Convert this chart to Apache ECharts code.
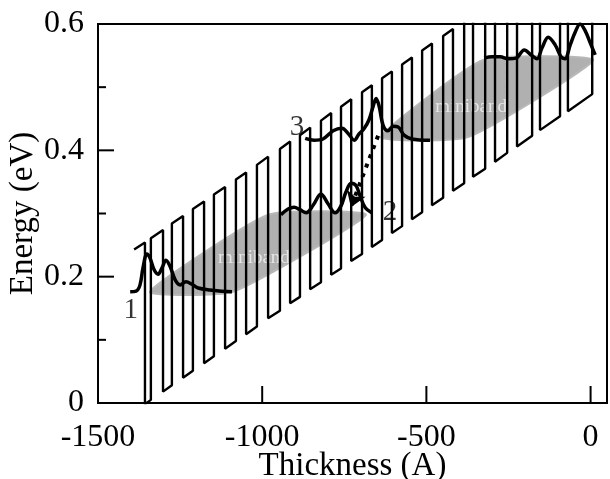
<!DOCTYPE html>
<html><head><meta charset="utf-8">
<script src="https://cdn.jsdelivr.net/npm/echarts@6/dist/echarts.min.js"></script>
<style>html,body{margin:0;padding:0;background:#fff}#c{width:610px;height:479px}</style>
</head><body><div id="c"></div>
<script>
// ---- axes ----
const xTickValues = [-1500, -1000, -500, 0];
const yTickValues = [0, 0.2, 0.4, 0.6];
const yMinorTickValues = [0.1, 0.3, 0.5];

// ---- superlattice band-edge profile (layer boundaries, Å) ----
const layerEdge = [-1390,-1357,-1339,-1302,-1275,-1241,-1211,-1177,-1147,-1113,-1080,-1049,-1016,-982,-946,-915,-885,-854,-821,-790,-760,-729,-696,-666,-635,-605,-574,-544,-513,-483,-449,-419,-385,-358,-321,-291,-254,-224,-178,-154,-93,-69,5,90];
// well-floor energy at each boundary (eV)
const bandFloor = [-0.013,-0.002,0.005,0.018,0.028,0.040,0.051,0.063,0.074,0.086,0.098,0.109,0.121,0.134,0.146,0.158,0.168,0.180,0.191,0.203,0.213,0.225,0.236,0.247,0.258,0.269,0.280,0.291,0.302,0.313,0.325,0.336,0.348,0.358,0.371,0.382,0.396,0.406,0.423,0.432,0.454,0.462,0.489,0.519];
const barrierHeight = 0.256;

// ---- minibands (corner points) ----
const miniband1X = [-1342, -1089, -684, -982];
const miniband1E = [0.176, 0.176, 0.298, 0.298];
const miniband2X = [-638, -373, 8, -327];
const miniband2E = [0.421, 0.421, 0.543, 0.543];
const minibandLabelX = [-1025, -364];
const minibandLabelE = [0.2295, 0.469];
const minibandText = 'miniband';

// ---- wavefunction curves ----
const curve1X = [-1402,-1384,-1372,-1363,-1351,-1342,-1329,-1317,-1305,-1293,-1281,-1265,-1250,-1232,-1214,-1195,-1159,-1092];
const curve1E = [0.176,0.177,0.187,0.214,0.236,0.230,0.211,0.204,0.214,0.226,0.217,0.195,0.187,0.192,0.188,0.182,0.179,0.176];
const curve2X = [-943,-921,-903,-885,-866,-845,-821,-799,-778,-760,-745,-729,-714,-702,-687,-665];
const curve2E = [0.298,0.307,0.310,0.306,0.301,0.313,0.331,0.315,0.301,0.312,0.334,0.348,0.344,0.328,0.310,0.301];
const curve3X = [-869,-842,-815,-784,-757,-737,-720,-705,-690,-675,-662,-653,-644,-632,-617,-601,-586,-568,-544,-489];
const curve3E = [0.419,0.416,0.418,0.431,0.435,0.426,0.416,0.426,0.434,0.448,0.470,0.482,0.470,0.440,0.431,0.438,0.437,0.424,0.418,0.416];
const curve4X = [-324,-300,-275,-251,-227,-202,-181,-163,-148,-129,-108,-90,-78,-62,-47,-32,-17,-1,14];
const curve4E = [0.546,0.548,0.548,0.545,0.546,0.559,0.551,0.545,0.562,0.579,0.567,0.548,0.545,0.567,0.587,0.600,0.590,0.570,0.551];

// ---- transition arrow ----
const arrowX = [-647, -730];
const arrowE = [0.423, 0.310];

// ---- state labels ----
const stateLabels = ['1', '2', '3'];
const stateLabelX = [-1400, -611, -894];
const stateLabelE = [0.147, 0.301, 0.437];

const FONT = "'Liberation Serif','Times New Roman',serif";
const X_MIN = xTickValues[0], X_MAX = 50, Y_MIN = 0, Y_MAX = 0.6;

// build profile polyline: even segments = barrier tops, odd = well floors
const profile = [];
for (let k = 0; k < layerEdge.length - 1; k++) {
  const off = (k % 2 === 0) ? barrierHeight : 0;
  profile.push([layerEdge[k], bandFloor[k] + off]);
  profile.push([layerEdge[k + 1], bandFloor[k + 1] + off]);
}
const zip = (a, b) => a.map((v, i) => [v, b[i]]);
const minibands = [
  {x: miniband1X, e: miniband1E, lx: minibandLabelX[0], le: minibandLabelE[0]},
  {x: miniband2X, e: miniband2E, lx: minibandLabelX[1], le: minibandLabelE[1]}
];

// tick marks (inside the frame): [axis, value, length]
const tickMarks = []
  .concat(xTickValues.slice(1).map(v => ['x', v, 17]))
  .concat(yTickValues.slice(1, 3).map(v => ['y', v, 16]))
  .concat(yMinorTickValues.map(v => ['y', v, 8]));

const curveSeries = (x, e) => ({
  type: 'line', data: zip(x, e), symbol: 'none', smooth: 0.35,
  lineStyle: {color: '#000', width: 3.5}, z: 5, silent: true
});

const axisBase = {
  type: 'value', nameLocation: 'middle', nameMoveOverlap: false,
  nameTextStyle: {fontFamily: FONT, fontSize: 33, color: '#000'},
  axisLine: {show: true, onZero: false, lineStyle: {color: '#000', width: 2}},
  axisTick: {show: false},
  splitLine: {show: false}
};

const chart = echarts.init(document.getElementById('c'), null, {renderer: 'canvas'});
chart.setOption({
  animation: false,
  backgroundColor: '#fff',
  grid: {left: 98, right: 3, top: 24, bottom: 76, containLabel: false, outerBoundsMode: 'none',
    show: true, borderColor: '#000', borderWidth: 2, backgroundColor: 'transparent'},
  xAxis: Object.assign({}, axisBase, {
    min: X_MIN, max: X_MAX, interval: 500,
    name: 'Thickness (A)', nameGap: 47,
    axisLabel: {fontFamily: FONT, fontSize: 32, color: '#000', margin: 19, customValues: xTickValues,
      formatter: v => String(v)}
  }),
  yAxis: Object.assign({}, axisBase, {
    min: Y_MIN, max: Y_MAX, interval: 0.2,
    name: 'Energy (eV)', nameGap: 58, nameRotate: 90,
    axisLabel: {fontFamily: FONT, fontSize: 32, color: '#000', margin: 14, customValues: yTickValues,
      formatter: v => (v === 0 ? '0' : v.toFixed(1))}
  }),
  series: [
    {
      type: 'custom', clip: true, silent: true, z: 1,
      data: minibands.map(b => [b.lx, b.le]),
      renderItem: (params, api) => {
        const b = minibands[params.dataIndex];
        const pts = b.x.map((xv, i) => api.coord([xv, b.e[i]]));
        const lp = api.coord([b.lx, b.le]);
        return {
          type: 'group',
          children: [
            {type: 'polygon', shape: {points: pts, smooth: 0.15},
             style: {fill: '#b0b0b0', stroke: '#b8b8b8', lineWidth: 2}},
            {type: 'text', x: lp[0], y: lp[1],
             style: {text: minibandText, fill: '#e6e6e6', font: "19px " + FONT, align: 'center', verticalAlign: 'middle'}}
          ]
        };
      }
    },
    {
      type: 'line', data: profile, symbol: 'none', clip: true, silent: true, z: 3,
      lineStyle: {color: '#000', width: 2.4}
    },
    curveSeries(curve1X, curve1E),
    curveSeries(curve2X, curve2E),
    curveSeries(curve3X, curve3E),
    curveSeries(curve4X, curve4E),
    {
      type: 'lines', coordinateSystem: 'cartesian2d', z: 6, silent: true,
      symbol: ['none', 'arrow'], symbolSize: 15,
      lineStyle: {color: '#000', width: 4, type: [4, 6], opacity: 1},
      data: [{coords: zip(arrowX, arrowE)}]
    },
    {
      type: 'scatter', symbolSize: 0, z: 7, silent: true,
      data: stateLabels.map((t, i) => [stateLabelX[i], stateLabelE[i], t]),
      label: {show: true, position: 'inside', formatter: p => p.value[2],
        fontFamily: FONT, fontSize: 29, color: '#000'}
    },
    {
      // axis tick marks drawn through the axis scales
      type: 'custom', clip: false, silent: true, z: 10,
      data: tickMarks.map((t, i) => [t[0] === 'x' ? t[1] : X_MIN, t[0] === 'y' ? t[1] : Y_MIN, i]),
      renderItem: (params, api) => {
        const t = tickMarks[params.dataIndex];
        if (t[0] === 'x') {
          const p = api.coord([t[1], Y_MIN]);
          return {type: 'line', shape: {x1: p[0], y1: p[1], x2: p[0], y2: p[1] - t[2]},
            style: {stroke: '#000', lineWidth: 2}};
        }
        const p = api.coord([X_MIN, t[1]]);
        return {type: 'line', shape: {x1: p[0], y1: p[1], x2: p[0] + t[2], y2: p[1]},
          style: {stroke: '#000', lineWidth: 2}};
      }
    }
  ]
});
</script>
</body></html>
